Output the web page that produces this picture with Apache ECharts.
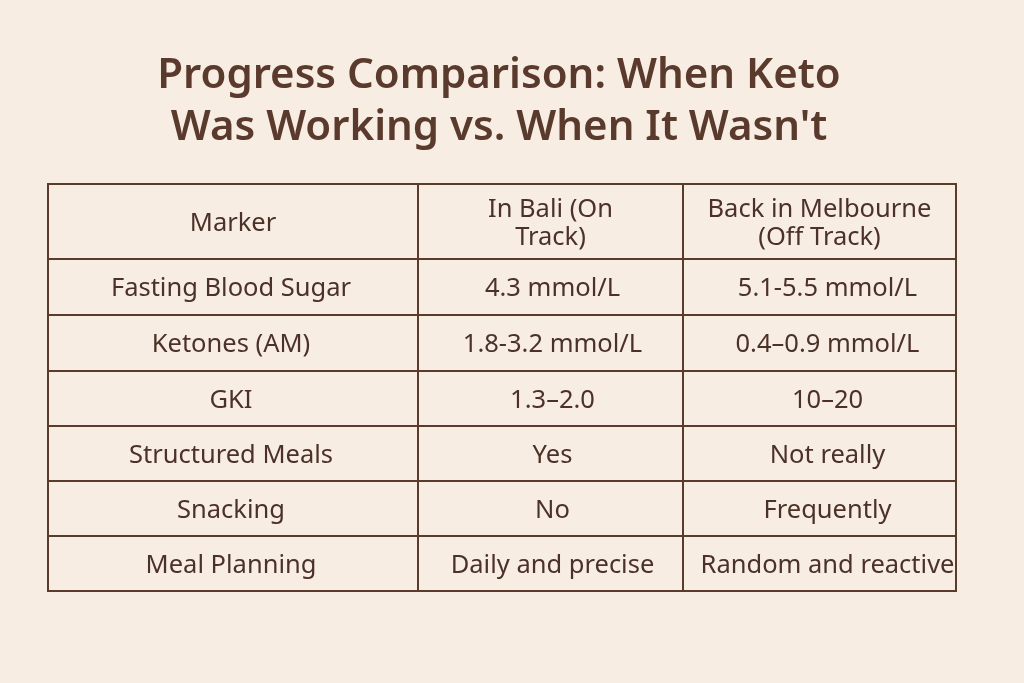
<!DOCTYPE html>
<html lang="en">
<head>
    <meta charset="UTF-8">
    <title>Progress Comparison</title>
    <script src="https://cdn.jsdelivr.net/npm/echarts@6/dist/echarts.min.js"></script>
    <style>
        html, body { margin: 0; padding: 0; background: #f8ede3; }
    </style>
</head>
<body>
<div id="main" style="width:1024px;height:683px"></div>
<script>
    // table contents
    let headers = ['Marker', 'In Bali (On\nTrack)', 'Back in Melbourne\n(Off Track)'];
    let markers = ['Fasting Blood Sugar', 'Ketones (AM)', 'GKI', 'Structured Meals', 'Snacking', 'Meal Planning'];
    let bali = ['4.3 mmol/L', '1.8-3.2 mmol/L', '1.3–2.0', 'Yes', 'No', 'Daily and precise'];
    let melbourne = ['5.1-5.5 mmol/L', '0.4–0.9 mmol/L', '10–20', 'Not really', 'Frequently', 'Random and reactive'];

    // layout: column and row edges in table units (px inside the grid)
    const colEdges = [0, 370, 635, 908];
    const rowEdges = [0, 75, 131, 187, 242, 297, 352, 407];
    const bodyShift = [-2, 2, 8];   // body text sits a little off centre in the source
    const textColor = '#4b3127';
    const lineColor = '#5a3b2c';

    let cells = [];
    headers.forEach(function (h, c) { cells.push([c, 0, h]); });
    markers.forEach(function (m, r) {
        cells.push([0, r + 1, m]);
        cells.push([1, r + 1, bali[r]]);
        cells.push([2, r + 1, melbourne[r]]);
    });

    let mychart = echarts.init(document.getElementById('main'));
    let option = {
        backgroundColor: '#f8ede3',
        title: {
            text: 'Progress Comparison: When Keto\nWas Working vs. When It Wasn\'t',
            left: 494,
            top: 45,
            textAlign: 'center',
            textStyle: {
                fontFamily: 'Noto Sans',
                fontSize: 42,
                fontWeight: 600,
                lineHeight: 52,
                color: '#5a3a2c'
            }
        },
        grid: { left: 48, right: 68, top: 184, bottom: 92 },
        xAxis: { type: 'value', min: 0, max: 908, show: false },
        yAxis: { type: 'value', min: 0, max: 407, inverse: true, show: false },
        series: [{
            type: 'custom',
            data: cells,
            encode: { x: 0, y: 1 },
            renderItem: function (params, api) {
                let c = api.value(0), r = api.value(1);
                let p0 = api.coord([colEdges[c], rowEdges[r]]);
                let p1 = api.coord([colEdges[c + 1], rowEdges[r + 1]]);
                let text = cells[params.dataIndex][2];
                let dx = r > 0 ? bodyShift[c] : 0;
                return {
                    type: 'group',
                    children: [{
                        type: 'rect',
                        shape: { x: p0[0], y: p0[1], width: p1[0] - p0[0], height: p1[1] - p0[1] },
                        style: { fill: 'transparent', stroke: lineColor, lineWidth: 2 }
                    }, {
                        type: 'text',
                        style: {
                            x: (p0[0] + p1[0]) / 2 + dx,
                            y: (p0[1] + p1[1]) / 2 + 2,
                            text: text,
                            align: 'center',
                            verticalAlign: 'middle',
                            fill: textColor,
                            font: '25.5px "Noto Sans"',
                            lineHeight: 28
                        }
                    }]
                };
            }
        }]
    };
    mychart.setOption(option);
</script>
</body>
</html>
